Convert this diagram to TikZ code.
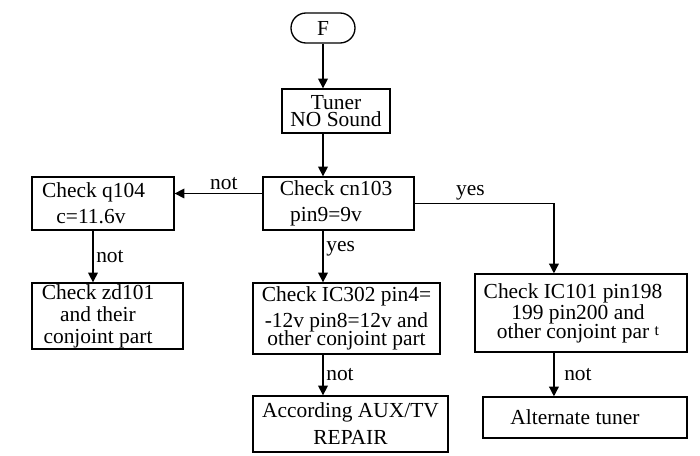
\documentclass[tikz,border=0pt]{standalone}
\usepackage{fontspec}
\setmainfont{Liberation Serif}
\usetikzlibrary{arrows.meta}

\begin{document}
\begin{tikzpicture}[x=0.02cm, y=-0.02cm,
  every node/.style={font=\fontsize{12.2}{15.9}\selectfont},
  box/.style={draw, line width=0.75pt, inner sep=0pt, align=center},
  arr/.style={line width=0.75pt, -{Triangle[length=5.5pt,width=5.5pt]}},
  lbl/.style={inner sep=1.5pt}]
\useasboundingbox (0,0) rectangle (700,456);

\node[box, rounded corners=8.5pt, minimum width=1.28cm, minimum height=0.6cm] (F) at (323,28) {F};
\node[box, minimum width=2.16cm, minimum height=0.88cm] (tuner) at (336,111) {Tuner\\[-5.8pt]NO Sound};
\node[box, minimum width=3.02cm, minimum height=1.06cm] (cn103) at (338.5,203.5) {\hspace*{-2.8pt}Check cn103\\[-1pt]\hspace*{-14.2pt}pin9=9v};
\node[box, minimum width=2.84cm, minimum height=1.06cm] (q104) at (103,203.5) {\hspace*{-10.8pt}Check q104\\[-1pt]\hspace*{-13.7pt}c=11.6v};
\node[box, minimum width=3.02cm, minimum height=1.32cm] (zd101) at (107.5,316) {\hspace*{-10.8pt}Check zd101\\[-3.4pt]\hspace*{-10.8pt}and their\\[-3.4pt]\hspace*{-10.8pt}conjoint part};
\node[box, minimum width=3.74cm, minimum height=1.42cm] (ic302) at (346.5,318.5) {Check IC302 pin4=\\[-1pt]-12v pin8=12v and\\[-5.8pt]other conjoint part};
\node[box, minimum width=4.24cm, minimum height=1.56cm] (ic101) at (581,313) {\hspace*{-9.1pt}Check IC101 pin198\\[-4pt]\hspace*{-3.4pt}199 pin200 and\\[-5pt]\hspace*{-3.4pt}other conjoint par \raisebox{1.5pt}{\small t}};
\node[box, minimum width=3.9cm, minimum height=1.12cm] (aux) at (350.5,424) {According AUX/TV\\[-0.5pt]REPAIR};
\node[box, minimum width=4.08cm, minimum height=0.82cm] (alt) at (585,417.5) {\hspace*{-11.4pt}Alternate tuner};

% main line
\draw[arr] (F) -- (tuner.north -| F);
\draw[arr] (tuner.south -| F) -- (cn103.north -| F);
\draw[arr] (cn103.south -| F) -- node[lbl, right, pos=0.35] {yes} (ic302.north -| F);
\draw[arr] (ic302.south -| F) -- node[lbl, right] {not} (aux.north -| F);

% left branch
\draw[arr] ([yshift=5.7pt]cn103.west) -- node[lbl, above, pos=0.44] {not} ([yshift=5.7pt]q104.east);
\draw[arr] ([xshift=-5.7pt]q104.south) -- node[lbl, right] {not} ([xshift=-5.7pt]q104.south |- zd101.north);

% right branch
\draw[arr] (cn103.east) -| node[lbl, above, pos=0.2] {yes} ([xshift=-15.4pt]ic101.north);
\draw[arr] ([xshift=-15.4pt]ic101.south) -- node[lbl, right, xshift=4pt] {not} ([xshift=-15.4pt]ic101.south |- alt.north);
\end{tikzpicture}
\end{document}
